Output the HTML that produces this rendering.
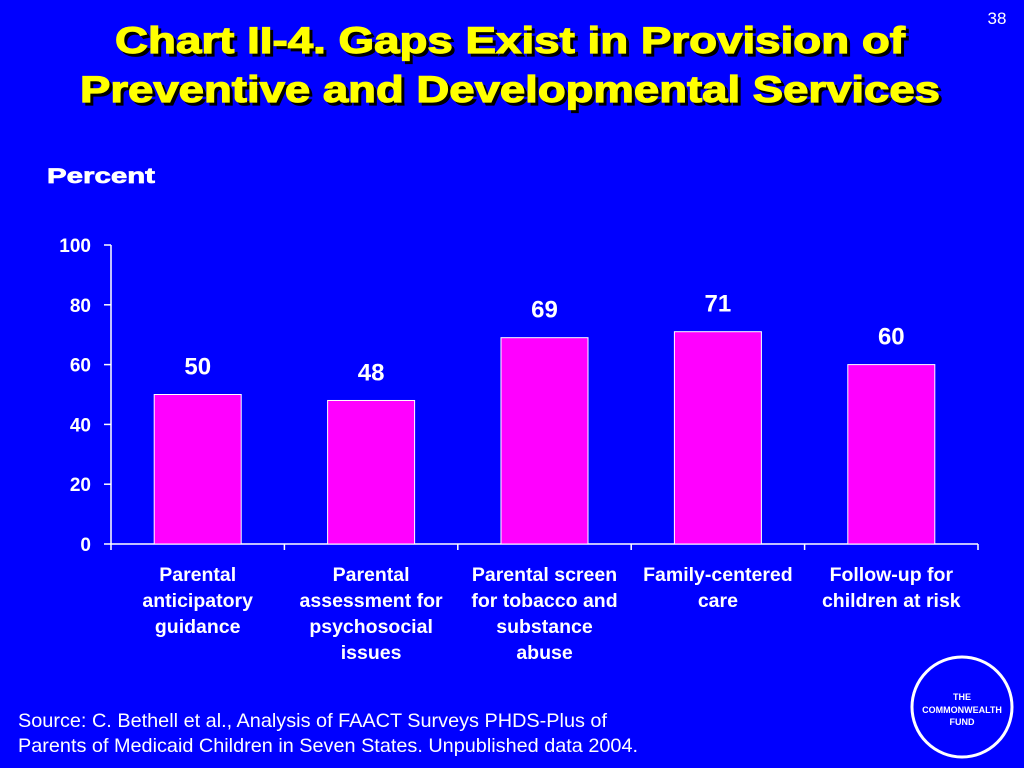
<!DOCTYPE html>
<html><head><meta charset="utf-8"><style>
html,body{margin:0;padding:0;width:1024px;height:768px;overflow:hidden;background:#0000ff;font-family:"Liberation Sans",Arial,sans-serif;}
</style></head><body>
<svg width="1024" height="768" viewBox="0 0 1024 768" style="position:absolute;left:0;top:0">
<rect width="1024" height="768" fill="#0000ff"/>
<text x="997" y="24" fill="#fff" font-size="17" text-anchor="middle">38</text>
<g font-weight="bold" font-size="37" stroke-width="1.2">
<text x="118" y="56" fill="#000" stroke="#000" textLength="790" lengthAdjust="spacingAndGlyphs">Chart II-4. Gaps Exist in Provision of</text>
<text x="115" y="53" fill="#ffff00" stroke="#ffff00" textLength="790" lengthAdjust="spacingAndGlyphs">Chart II-4. Gaps Exist in Provision of</text>
<text x="83" y="105" fill="#000" stroke="#000" textLength="860" lengthAdjust="spacingAndGlyphs">Preventive and Developmental Services</text>
<text x="80" y="102" fill="#ffff00" stroke="#ffff00" textLength="860" lengthAdjust="spacingAndGlyphs">Preventive and Developmental Services</text>
</g>
<text x="47" y="183" fill="#fff" font-size="21" font-weight="bold" stroke="#fff" stroke-width="0.7" textLength="108" lengthAdjust="spacingAndGlyphs">Percent</text>
<g id="plot"></g>
<text x="18" y="727" fill="#fff" font-size="19.5" textLength="589" lengthAdjust="spacingAndGlyphs">Source: C. Bethell et al., Analysis of FAACT Surveys PHDS-Plus of</text>
<text x="18" y="752" fill="#fff" font-size="19.5" textLength="620" lengthAdjust="spacingAndGlyphs">Parents of Medicaid Children in Seven States. Unpublished data 2004.</text>
<g>
<circle cx="962" cy="707" r="50" fill="#0000ff" stroke="#fff" stroke-width="3"/>
<g fill="#fff" font-size="9" font-weight="bold" text-anchor="middle">
<text x="962" y="700">THE</text><text x="962" y="713">COMMONWEALTH</text><text x="962" y="725">FUND</text></g>
</g>
</svg>
<script>
const categories=[["Parental","anticipatory","guidance"],["Parental","assessment for","psychosocial","issues"],["Parental screen","for tobacco and","substance","abuse"],["Family-centered","care"],["Follow-up for","children at risk"]];
const values=[50,48,69,71,60];
const yTicks=[0,20,40,60,80,100];
const ns="http://www.w3.org/2000/svg";
const g=document.getElementById('plot');
const x0=111,x1=978,yb=544,yt=245,yMax=100;
const y=v=>yb-(yb-yt)*v/yMax;
const band=(x1-x0)/categories.length;
const xc=i=>x0+band*(i+0.5);
function mk(t,a,p){const e=document.createElementNS(ns,t);for(const k in a)e.setAttribute(k,a[k]);(p||g).appendChild(e);return e;}
let ax=mk('line',{x1:x0,y1:yt,x2:x0,y2:yb,stroke:'#fff','stroke-width':1.5});


let bx=mk('line',{x1:x0,y1:yb,x2:x1,y2:yb,stroke:'#fff','stroke-width':1.5});


yTicks.forEach(v=>{
 mk('line',{x1:x0-7,y1:y(v),x2:x0,y2:y(v),stroke:'#fff','stroke-width':1.5});
 const t=mk('text',{x:91,y:y(v)+7,fill:'#fff','font-size':19,'font-weight':'bold','text-anchor':'end'});
 t.textContent=v;
 
 
});
for(let i=0;i<=categories.length;i++){mk('line',{x1:x0+band*i,y1:yb,x2:x0+band*i,y2:yb+6,stroke:'#fff','stroke-width':1.5});}
const bw=87;
values.forEach((v,i)=>{
 const r=mk('rect',{x:xc(i)-bw/2,y:y(v),width:bw,height:yb-y(v),fill:'#ff00ff',stroke:'#fff','stroke-width':1});
 
 
 const t=mk('text',{x:xc(i),y:y(v)-20,fill:'#fff','font-size':24,'font-weight':'bold','text-anchor':'middle'});
 t.textContent=v;
 
 
 categories[i].forEach((ln,j)=>{
  const c=mk('text',{x:xc(i),y:581+j*26,fill:'#fff','font-size':19.5,'font-weight':'bold','text-anchor':'middle'});
  c.textContent=ln;
  
  
 });
});
</script>
</body></html>
